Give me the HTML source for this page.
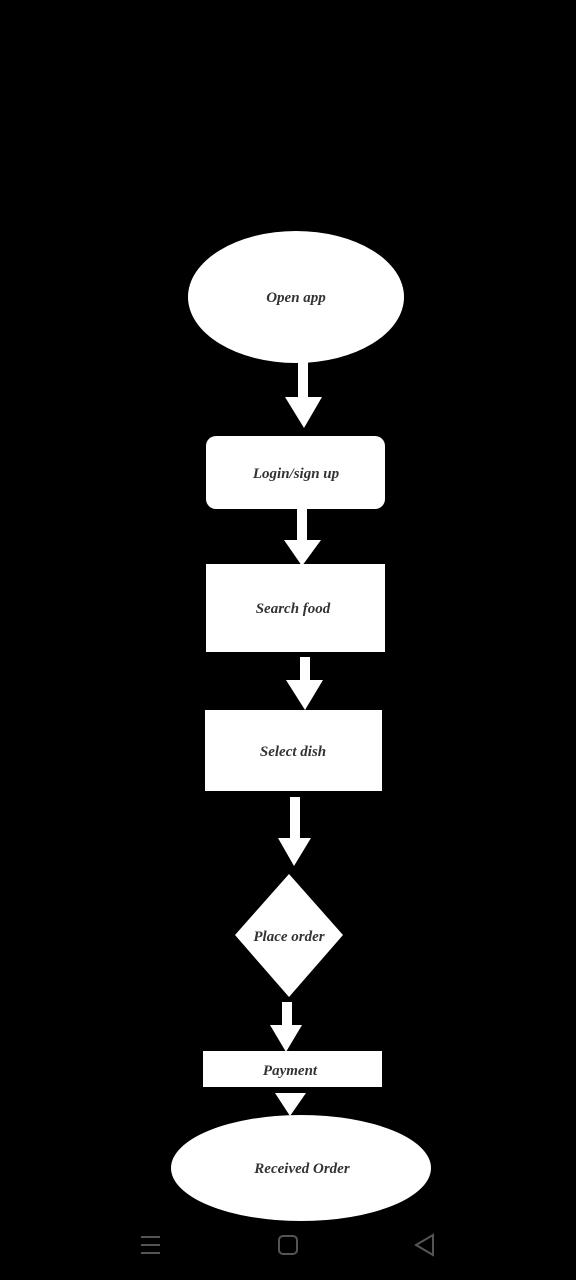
<!DOCTYPE html>
<html><head><meta charset="utf-8"><style>
html,body{margin:0;padding:0;background:#000;}
svg{display:block;}
text{font-family:"Liberation Serif",serif;font-style:italic;font-weight:bold;fill:#333;text-anchor:middle;}
</style></head><body>
<svg width="576" height="1280" viewBox="0 0 576 1280" xmlns="http://www.w3.org/2000/svg">
<rect width="576" height="1280" fill="#000"/>
<g fill="#fff">
<ellipse cx="296" cy="297" rx="108" ry="66"/>
<rect x="298" y="362" width="10" height="36"/>
<polygon points="285,397 322,397 304,428"/>
<rect x="206" y="436" width="179" height="73" rx="10"/>
<rect x="297" y="508" width="10" height="33"/>
<polygon points="284,540 321,540 302,566"/>
<rect x="206" y="564" width="179" height="88"/>
<rect x="300" y="657" width="10" height="24"/>
<polygon points="286,680 323,680 305,710"/>
<rect x="205" y="710" width="177" height="81"/>
<rect x="290" y="797" width="10" height="42"/>
<polygon points="278,838 311,838 294,866"/>
<polygon points="289,874 343,935 289,997 235,935"/>
<rect x="282" y="1002" width="10" height="24"/>
<polygon points="270,1025 302,1025 286,1052"/>
<rect x="203" y="1051" width="179" height="36"/>
<polygon points="275,1093 306,1093 290,1116"/>
<ellipse cx="301" cy="1168" rx="130" ry="53"/>
</g>
<text x="296" y="302" font-size="15">Open app</text>
<text x="296" y="478" font-size="15">Login/sign up</text>
<text x="293" y="613" font-size="15">Search food</text>
<text x="293" y="756" font-size="15">Select dish</text>
<text x="289" y="941" font-size="15">Place order</text>
<text x="290" y="1075" font-size="15">Payment</text>
<text x="302" y="1173" font-size="15">Received Order</text>
<g stroke="#555" stroke-width="2" fill="none">
<line x1="141" y1="1237" x2="160" y2="1237"/>
<line x1="141" y1="1245" x2="160" y2="1245"/>
<line x1="141" y1="1253" x2="160" y2="1253"/>
<rect x="279" y="1236" width="18" height="18" rx="4"/>
<polygon points="433,1235 433,1255 416,1245"/>
</g>
</svg>
</body></html>
